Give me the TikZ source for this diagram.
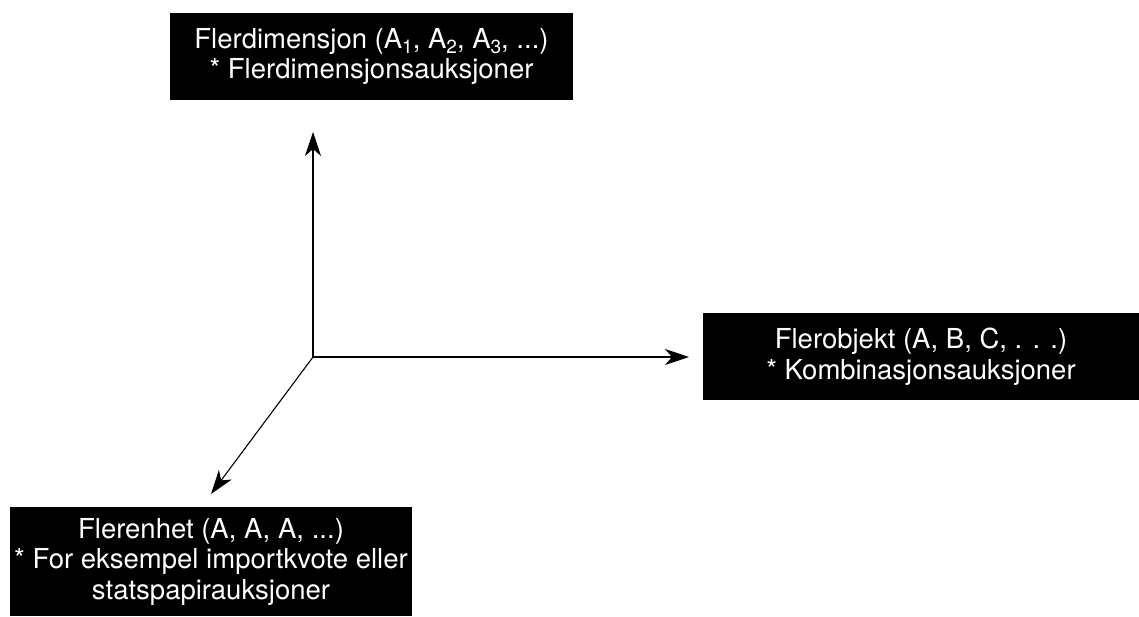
\documentclass[tikz,border=0pt]{standalone}
\usepackage{fontspec}
\setmainfont{TeX Gyre Heros}
\usetikzlibrary{arrows.meta, positioning}
\newcommand{\lowidx}[1]{\raisebox{-0.35ex}{\fontsize{19}{19}\selectfont #1}}

\begin{document}
\begin{tikzpicture}[x=1pt, y=-1pt,
    box/.style={fill=black, text=white, align=center, inner sep=0pt,
        font=\fontsize{27.5}{30.5}\selectfont},
    axis/.style={line width=1.1pt, -{Stealth[length=24pt, width=16pt, inset=7pt]}}]
    \useasboundingbox (0,0) rectangle (1139,616);

    \node[box, minimum width=403pt, minimum height=87pt] (dim) at (371.5,56.5)
        {Flerdimensjon (A\lowidx{1}, A\lowidx{2}, A\lowidx{3}, ...)\\* Flerdimensjonsauksjoner};
    \node[box, minimum width=436pt, minimum height=87pt] (obj) at (921,356.5)
        {Flerobjekt (A, B, C, . . .)\\* Kombinasjonsauksjoner};
    \node[box, minimum width=402pt, minimum height=109pt] (unit) at (211,561.5)
        {Flerenhet (A, A, A, ...)\\* For eksempel importkvote eller\\statspapirauksjoner};

    % axes meet here
    \coordinate (o) at (313,357);
    \coordinate (up) at (313,132);
    \coordinate (rt) at (689,357);
    \coordinate (dn) at (211,494);

    \draw[axis] (o) -- (up);
    \draw[axis] (o) -- (rt);
    \draw[axis] (o) -- (dn);
\end{tikzpicture}
\end{document}
